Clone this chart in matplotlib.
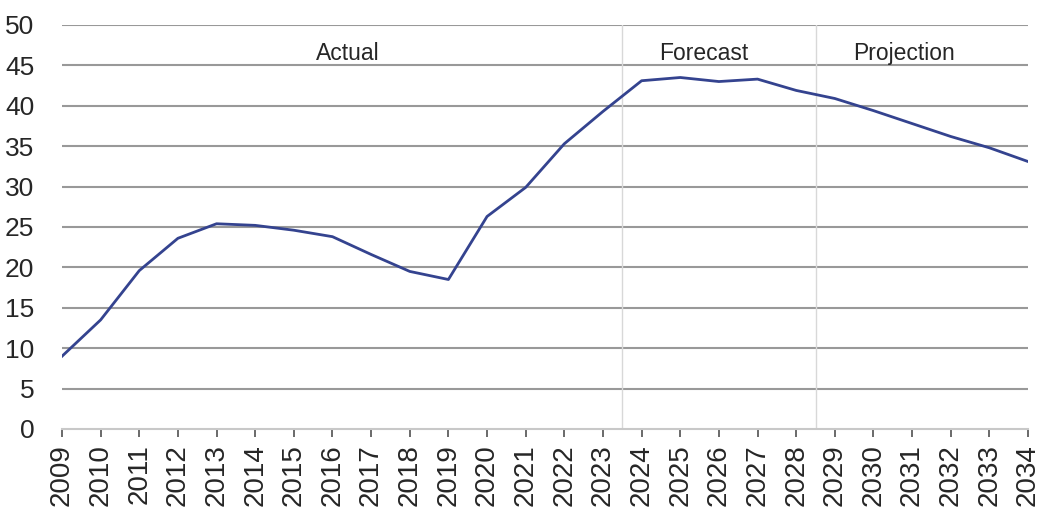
import matplotlib
matplotlib.use("Agg")
import matplotlib.pyplot as plt

# values
years = list(range(2009, 2035))
values = [9.0, 13.5, 19.6, 23.6, 25.4, 25.2, 24.6, 23.8, 21.6, 19.5, 18.5,
          26.3, 29.9, 35.3, 39.3, 43.1, 43.5, 43.0, 43.3, 41.9, 40.9, 39.4,
          37.8, 36.2, 34.8, 33.1]
y_ticks = [0, 5, 10, 15, 20, 25, 30, 35, 40, 45, 50]
section_breaks = [2023.5, 2028.5]
section_labels = ["Actual", "Forecast", "Projection"]
section_label_x = [2016.4, 2025.6, 2030.8]

plt.rcParams["font.family"] = ["Liberation Sans", "DejaVu Sans"]

fig = plt.figure(figsize=(10.4, 5.14), dpi=100)
ax = fig.add_axes([0.0596, 0.1654, 0.9289, 0.786])

for y in y_ticks[1:]:
    ax.axhline(y, color="#999999", linewidth=1.5, zorder=1)
for x in section_breaks:
    ax.axvline(x, color="#d8d8d8", linewidth=1.0, zorder=1)

ax.plot(years, values, color="#34438f", linewidth=2.0, zorder=3)

for label, x in zip(section_labels, section_label_x):
    ax.text(x, 46.5, label, ha="center", va="center", fontsize=16.5, color="#262626")

ax.set_xlim(2009, 2034)
ax.set_ylim(0, 50)
ax.set_yticks(y_ticks)
ax.set_xticks(years)
ax.set_xticklabels([str(y) for y in years], rotation=90)

for side in ["top", "right", "left"]:
    ax.spines[side].set_visible(False)
ax.spines["bottom"].set_color("#c8c8c8")
ax.spines["bottom"].set_linewidth(1.5)

ax.tick_params(axis="y", length=0, labelsize=19, pad=20, colors="#262626")
ax.tick_params(axis="x", length=6, width=1.2, color="#505050",
               labelsize=20, pad=5, labelcolor="#262626")

fig.savefig("out.png", dpi=100)
